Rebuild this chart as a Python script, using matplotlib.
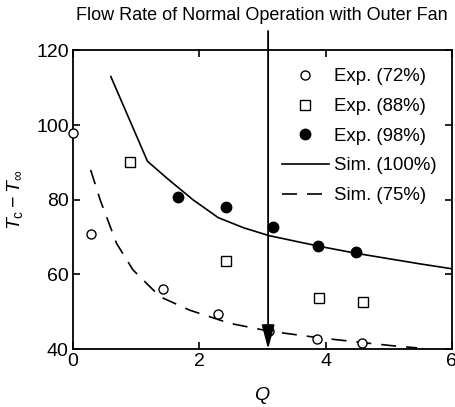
import matplotlib
matplotlib.use("Agg")
import matplotlib.pyplot as plt
from matplotlib.lines import Line2D

plt.rcParams['font.family'] = ['Liberation Sans', 'DejaVu Sans']
plt.rcParams['mathtext.fontset'] = 'custom'
plt.rcParams['mathtext.it'] = 'Liberation Sans:italic'
plt.rcParams['mathtext.rm'] = 'Liberation Sans'

# Data
exp72_q = [0.0, 0.28, 1.43, 2.30, 3.11, 3.87, 4.58]
exp72_t = [98.0, 70.8, 56.2, 49.5, 44.9, 42.8, 41.5]

exp88_q = [0.91, 2.43, 3.90, 4.60]
exp88_t = [90.1, 63.6, 53.8, 52.7]

exp98_q = [1.66, 2.42, 3.16, 3.88, 4.48]
exp98_t = [80.8, 78.0, 72.8, 67.7, 66.1]

sim100_q = [0.60, 1.18, 1.50, 1.90, 2.30, 2.70, 3.10, 3.60, 4.00, 4.50, 5.00, 5.50, 6.00]
sim100_t = [113.0, 90.3, 85.6, 80.0, 75.2, 72.5, 70.4, 68.6, 67.2, 65.6, 64.2, 62.8, 61.5]

sim75_q = [0.28, 0.43, 0.69, 0.95, 1.38, 1.85, 2.48, 3.10, 3.90, 4.60, 5.10, 5.45]
sim75_t = [88.0, 80.0, 68.3, 61.2, 54.0, 50.4, 46.9, 44.8, 43.0, 41.7, 40.8, 40.3]

xticks = [0, 2, 4, 6]
yticks = [40, 60, 80, 100, 120]
arrow_q = 3.09

fig = plt.figure(figsize=(4.56, 4.07), dpi=100)
ax = fig.add_axes([0.160, 0.1425, 0.831, 0.7335])

ax.plot(sim100_q, sim100_t, color='black', lw=1.2, label='Sim. (100%)')
ax.plot(sim75_q, sim75_t, color='black', lw=1.2, dashes=(9, 6), label='Sim. (75%)')
ax.plot(exp72_q, exp72_t, 'o', mfc='white', mec='black', mew=1.0, ms=6.5, clip_on=False, zorder=5)
ax.plot(exp88_q, exp88_t, 's', mfc='white', mec='black', mew=1.0, ms=7, clip_on=False, zorder=5)
ax.plot(exp98_q, exp98_t, 'o', mfc='black', mec='black', ms=7.5, clip_on=False, zorder=5)

ax.set_xlim(0, 6)
ax.set_ylim(40, 120)
ax.set_xticks(xticks)
ax.set_yticks(yticks)
ax.tick_params(direction='in', top=True, right=True, labeltop=False, labelright=False,
               length=5, width=1.2, labelsize=14, pad=3)
for s in ax.spines.values():
    s.set_linewidth(1.3)

ax.set_xlabel('$Q$', fontsize=14, labelpad=11)
ax.set_ylabel(r'$T_{\mathrm{c}} - T_{\infty}$', fontsize=14, labelpad=8)

# Vertical arrow
ax.annotate('', xy=(arrow_q, 40), xytext=(arrow_q, 125.2), xycoords='data',
            arrowprops=dict(arrowstyle='-|>,head_length=1.05,head_width=0.28',
                            mutation_scale=14,
                            color='black', lw=1.3, shrinkA=0, shrinkB=0),
            annotation_clip=False, zorder=7)

fig.text(0.574, 0.963, 'Flow Rate of Normal Operation with Outer Fan',
         ha='center', va='center', fontsize=13)

handles = [
    Line2D([], [], ls='none', marker='o', mfc='white', mec='black', ms=6.5, mew=1.0),
    Line2D([], [], ls='none', marker='s', mfc='white', mec='black', ms=7, mew=1.0),
    Line2D([], [], ls='none', marker='o', mfc='black', mec='black', ms=7.5),
    Line2D([], [], color='black', lw=1.2),
    Line2D([], [], color='black', lw=1.2, dashes=(9, 6)),
]
labels = ['Exp. (72%)', 'Exp. (88%)', 'Exp. (98%)', 'Sim. (100%)', 'Sim. (75%)']
ax.legend(handles, labels, loc='upper left', bbox_to_anchor=(0.552, 0.94),
          frameon=False, fontsize=13.4, handlelength=2.5, handletextpad=0.3,
          labelspacing=0.68, borderpad=0, borderaxespad=0)

fig.savefig('out.png', dpi=100)
